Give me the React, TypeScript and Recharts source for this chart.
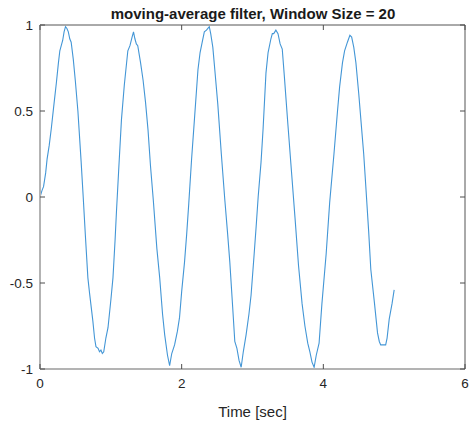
import React from 'react';
import { LineChart, Line, XAxis, YAxis } from 'recharts';

// Filtered signal, grouped by half-cycle.
const timeSec = [
  0, 0.03, 0.05, 0.08, 0.1, 0.13, 0.16, 0.2, 0.23, 0.26, 0.28, 0.3, 0.32, 0.34, 0.36, 0.38, 0.4, 0.42, 0.44, 0.47, 0.5, 0.535, 0.58,
  0.61, 0.64, 0.676, 0.7, 0.746, 0.77, 0.79, 0.82, 0.84, 0.86, 0.88, 0.9, 0.93, 0.96, 1.0, 1.03, 1.06, 1.08,
  1.11, 1.15, 1.19, 1.24, 1.27, 1.3, 1.32, 1.34, 1.36, 1.38, 1.42, 1.455, 1.49, 1.525, 1.56,
  1.6, 1.65, 1.69, 1.73, 1.76, 1.8, 1.83, 1.86, 1.9, 1.94, 1.97, 2.0, 2.04, 2.07, 2.1,
  2.14, 2.18, 2.23, 2.26, 2.29, 2.32, 2.35, 2.37, 2.39, 2.41, 2.44, 2.47, 2.51, 2.56,
  2.61, 2.65, 2.68, 2.72, 2.75, 2.78, 2.81, 2.84, 2.87, 2.91, 2.95, 2.98, 3.02, 3.05, 3.08,
  3.12, 3.15, 3.19, 3.22, 3.26, 3.28, 3.3, 3.33, 3.36, 3.39, 3.42, 3.45, 3.5, 3.55,
  3.6, 3.65, 3.7, 3.74, 3.78, 3.81, 3.84, 3.87, 3.9, 3.94, 3.98, 4.04, 4.09,
  4.15, 4.2, 4.23, 4.27, 4.3, 4.34, 4.375, 4.4, 4.43, 4.46, 4.5, 4.53, 4.57, 4.6,
  4.64, 4.67, 4.72, 4.765, 4.79, 4.81, 4.85, 4.88, 4.9, 4.93, 4.97, 5.0,
];

const filtered = [
  0, 0.04, 0.06, 0.14, 0.22, 0.3, 0.4, 0.55, 0.66, 0.78, 0.85, 0.88, 0.91, 0.96, 0.99, 0.98, 0.96, 0.92, 0.9, 0.8, 0.67, 0.5, 0.21,
  0, -0.22, -0.47, -0.56, -0.72, -0.82, -0.87, -0.88, -0.9, -0.89, -0.91, -0.9, -0.82, -0.76, -0.6, -0.47, -0.25, -0.08,
  0.15, 0.45, 0.65, 0.85, 0.88, 0.93, 0.96, 0.92, 0.89, 0.88, 0.78, 0.68, 0.55, 0.39, 0.18,
  -0.02, -0.3, -0.47, -0.68, -0.8, -0.92, -0.98, -0.91, -0.86, -0.78, -0.7, -0.55, -0.38, -0.22, -0.04,
  0.22, 0.45, 0.74, 0.84, 0.9, 0.96, 0.97, 0.98, 0.99, 0.95, 0.87, 0.73, 0.54, 0.25,
  -0.02, -0.22, -0.38, -0.64, -0.84, -0.88, -0.95, -0.99, -0.9, -0.8, -0.68, -0.57, -0.35, -0.18, 0,
  0.2, 0.4, 0.72, 0.84, 0.92, 0.95, 0.95, 0.97, 0.95, 0.89, 0.86, 0.7, 0.42, 0.15,
  -0.12, -0.4, -0.62, -0.75, -0.85, -0.9, -0.96, -0.99, -0.92, -0.85, -0.62, -0.33, -0.03,
  0.25, 0.5, 0.64, 0.78, 0.85, 0.9, 0.94, 0.93, 0.87, 0.78, 0.6, 0.45, 0.25, 0.06,
  -0.2, -0.42, -0.61, -0.79, -0.84, -0.86, -0.86, -0.86, -0.82, -0.71, -0.62, -0.54,
];

const xTicks = [0, 2, 4, 6];
const yTicks = [-1, -0.5, 0, 0.5, 1];

const data = timeSec.map((t, i) => ({ t, y: filtered[i] }));

const FONT = '"Liberation Sans", Arial, Helvetica, sans-serif';
const TICK_LEN = 5;
const TICK_COLOR = '#4d4d4d';
const LABEL_COLOR = '#262626';

// Custom ticks so the tick marks point into the plot, like MATLAB.
// x / y arrive already offset by tickMargin from the axis line.
const BottomTick = (props: any) => {
  const { x, y, payload } = props;
  const axisY = y - 9;
  return (
    <g>
      <line x1={x} x2={x} y1={axisY} y2={axisY - TICK_LEN} stroke={TICK_COLOR} />
      <text x={x} y={y} dy="0.71em" textAnchor="middle" fill={LABEL_COLOR} fontSize={13.5} fontFamily={FONT}>
        {payload.value}
      </text>
    </g>
  );
};

const LeftTick = (props: any) => {
  const { x, y, payload } = props;
  const axisX = x + 7;
  return (
    <g>
      <line x1={axisX} x2={axisX + TICK_LEN} y1={y} y2={y} stroke={TICK_COLOR} />
      <text x={x} y={y} dy="0.355em" textAnchor="end" fill={LABEL_COLOR} fontSize={13.5} fontFamily={FONT}>
        {payload.value}
      </text>
    </g>
  );
};

const TopTick = (props: any) => {
  const { x, y } = props;
  return <line x1={x} x2={x} y1={y} y2={y + TICK_LEN} stroke={TICK_COLOR} />;
};

const RightTick = (props: any) => {
  const { x, y } = props;
  return <line x1={x} x2={x - TICK_LEN} y1={y} y2={y} stroke={TICK_COLOR} />;
};

export default function App() {
  return (
    <div style={{ position: 'absolute', left: 0, top: 0, width: 469, height: 421, background: '#fff' }}>
      <div
        style={{
          position: 'absolute',
          left: 40,
          width: 426,
          top: 6,
          textAlign: 'center',
          fontFamily: FONT,
          fontWeight: 'bold',
          fontSize: 15,
          lineHeight: '15px',
          color: '#1a1a1a',
        }}
      >
        moving-average filter, Window Size = 20
      </div>
      <LineChart width={469} height={421} data={data} margin={{ top: 24, right: 3, bottom: 0, left: 0 }}>
        <XAxis
          dataKey="t"
          type="number"
          domain={[0, 6]}
          ticks={xTicks}
          allowDataOverflow
          height={52}
          tickSize={0}
          tickMargin={9}
          tickLine={false}
          tick={<BottomTick />}
          axisLine={{ stroke: '#b3b3b3', strokeWidth: 2 }}
          label={{ value: 'Time [sec]', position: 'insideBottom', offset: 4, fill: LABEL_COLOR, fontSize: 15, fontFamily: FONT }}
        />
        <XAxis
          xAxisId="top"
          dataKey="t"
          orientation="top"
          type="number"
          domain={[0, 6]}
          ticks={xTicks}
          allowDataOverflow
          height={1}
          tickSize={0}
          tickMargin={0}
          tickLine={false}
          tick={<TopTick />}
          axisLine={{ stroke: '#555' }}
        />
        <YAxis
          type="number"
          domain={[-1, 1]}
          ticks={yTicks}
          width={40}
          tickSize={0}
          tickMargin={7}
          tickLine={false}
          tick={<LeftTick />}
          axisLine={{ stroke: '#b3b3b3', strokeWidth: 2 }}
        />
        <YAxis
          yAxisId="right"
          orientation="right"
          type="number"
          domain={[-1, 1]}
          ticks={yTicks}
          width={1}
          tickSize={0}
          tickMargin={0}
          tickLine={false}
          tick={<RightTick />}
          axisLine={{ stroke: '#555' }}
        />
        {/* invisible series so the top/right frame axes get drawn */}
        <Line
          xAxisId="top"
          yAxisId="right"
          dataKey="y"
          stroke="none"
          dot={false}
          activeDot={false}
          isAnimationActive={false}
        />
        <Line
          dataKey="y"
          type="linear"
          stroke="#4396d6"
          strokeWidth={1.1}
          dot={false}
          isAnimationActive={false}
        />
      </LineChart>
    </div>
  );
}
